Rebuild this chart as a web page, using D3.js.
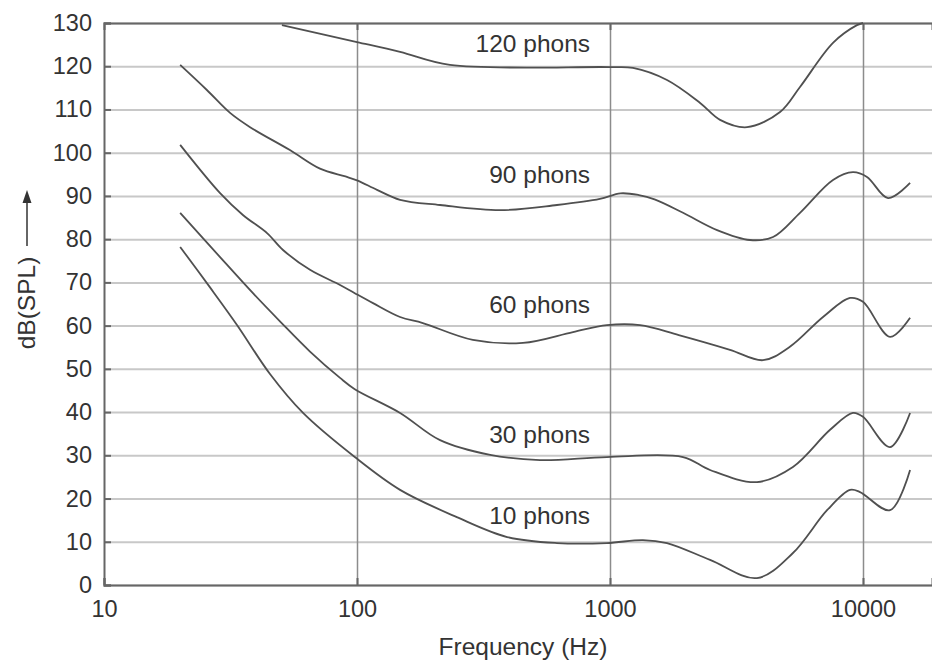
<!DOCTYPE html>
<html>
<head>
<meta charset="utf-8">
<script src="https://cdn.jsdelivr.net/npm/d3@7"></script>
<style>
  body { margin: 0; background: #fff; }
  svg { display: block; }
  .axis text { font-family: "Liberation Sans", Arial, sans-serif; font-size: 23.5px; fill: #333; }
  .label { font-family: "Liberation Sans", Arial, sans-serif; font-size: 24.5px; fill: #333; }
</style>
</head>
<body>
<script>
// Equal-loudness contours, frequency (Hz) / level (dB SPL)
var phons10Freq = [20, 26.2, 33.6, 45.3, 61.2, 98, 148, 248, 392, 617, 972, 1349, 1680, 2486, 3810, 5285, 7210, 8890, 9730, 12790, 15350];
var phons10Db   = [78.2, 68.9, 60.1, 48.8, 39.8, 29.6, 22.0, 15.7, 11.1, 9.7, 9.7, 10.4, 9.7, 5.8, 1.6, 7.4, 17.3, 22.0, 21.5, 17.3, 26.6];

var phons30Freq = [20, 28.7, 38.8, 49.6, 65.2, 85.7, 98, 148, 213, 336, 529, 972, 1944, 2486, 3810, 5285, 7410, 9125, 10000, 12790, 15350];
var phons30Db   = [86.1, 75.9, 67.5, 61.0, 54.0, 47.9, 45.3, 39.8, 33.5, 30.1, 28.9, 29.6, 29.6, 26.6, 23.8, 27.3, 35.9, 39.8, 38.9, 31.9, 39.8];

var phons60Freq = [20, 28.7, 35.4, 44.1, 51, 65.2, 85.7, 98, 115.7, 148, 182, 287, 453, 714, 972, 1314, 1870, 2980, 4025, 5140, 6950, 8890, 10000, 12790, 15350];
var phons60Db   = [101.8, 90.7, 85.6, 81.4, 77.5, 72.9, 69.4, 67.5, 65.2, 62.0, 60.6, 56.7, 56.0, 58.5, 60.1, 60.1, 57.8, 54.4, 52.0, 55.1, 62.0, 66.4, 65.5, 57.4, 61.8];

var phons90Freq = [20, 25.5, 31.5, 37.8, 54.3, 71.4, 90, 100, 120, 148, 213, 367, 617, 912, 1100, 1300, 1500, 1944, 2650, 3575, 4410, 5636, 7610, 9125, 10370, 12560, 15350];
var phons90Db   = [120.3, 114.5, 109.2, 105.9, 100.6, 96.3, 94.5, 93.6, 91.4, 89.1, 87.9, 86.7, 87.9, 89.3, 90.6, 90.2, 89.2, 86.1, 82.1, 79.8, 80.5, 86.1, 93.7, 95.5, 94.4, 89.5, 93.0];

var phons120Freq = [50.5, 100, 148, 233, 1000, 1233, 1680, 2271, 2723, 3480, 4700, 5636, 7610, 9465, 10000];
var phons120Db   = [129.5, 125.6, 123.3, 120.3, 119.8, 119.6, 116.8, 111.5, 107.6, 105.9, 109.4, 115.2, 125.4, 129.5, 130];

var curveNames = ["10 phons", "30 phons", "60 phons", "90 phons", "120 phons"];
var labelDb = [14.1, 32.8, 62.9, 93.0, 123.3];
var labelFreq = 834;

var yTicks = d3.range(0, 131, 10);
var xTicks = [10, 100, 1000, 10000];

var margin = {left: 104, right: 0, top: 23, bottom: 79},
    width = 932 - margin.left - margin.right,
    height = 664 - margin.top - margin.bottom;

var svg = d3.select("body")
    .append("svg")
    .attr("width", width + margin.left + margin.right)
    .attr("height", height + margin.top + margin.bottom)
    .append("g")
    .attr("transform", "translate(" + margin.left + "," + margin.top + ")");

// log axis: one decade is 253px, plot runs off the right edge
var xScale = d3.scaleLog()
    .domain([10, Math.pow(10, 1 + width / 253)])
    .range([0, width]);

var yScale = d3.scaleLinear()
    .domain([0, 130])
    .range([height, 0]);

//horizontal grid
svg.append("g")
    .attr("class", "ygrid")
    .call(d3.axisLeft(yScale).tickValues(yTicks).tickSize(-width).tickFormat(""))
    .call(function(g) {
        g.select(".domain").remove();
        g.selectAll("line").attr("stroke", "#c8c8c8").attr("stroke-width", 2);
    });

//vertical grid
svg.append("g")
    .attr("class", "xgrid")
    .attr("transform", "translate(0," + height + ")")
    .call(d3.axisBottom(xScale).tickValues(xTicks.slice(1)).tickSize(-height).tickFormat(""))
    .call(function(g) {
        g.select(".domain").remove();
        g.selectAll("line").attr("stroke", "#8c8c8c").attr("stroke-width", 1.5);
    });

//Y-axis with inward ticks
svg.append("g")
    .attr("class", "y axis")
    .call(d3.axisLeft(yScale).tickValues(yTicks).tickSize(-7).tickPadding(12))
    .call(function(g) {
        g.select(".domain").attr("stroke", "#666").attr("stroke-width", 2);
        g.selectAll("line").attr("stroke", "#666").attr("stroke-width", 2);
    });

//X-axis
svg.append("g")
    .attr("class", "x axis")
    .attr("transform", "translate(0," + height + ")")
    .call(d3.axisBottom(xScale).tickValues(xTicks).tickSize(-7).tickPadding(15).tickFormat(d3.format("d")))
    .call(function(g) {
        g.select(".domain").attr("stroke", "#666").attr("stroke-width", 2);
        g.selectAll("line").attr("stroke", "#666").attr("stroke-width", 2);
    });

//top border
svg.append("g")
    .call(d3.axisTop(xScale).tickValues(xTicks.slice(1)).tickSize(-7).tickFormat(""))
    .call(function(g) {
        g.select(".domain").attr("stroke", "#666").attr("stroke-width", 2);
        g.selectAll("line").attr("stroke", "#666").attr("stroke-width", 2);
    });

//Curves
var curves = [
    {f: phons10Freq, db: phons10Db},
    {f: phons30Freq, db: phons30Db},
    {f: phons60Freq, db: phons60Db},
    {f: phons90Freq, db: phons90Db},
    {f: phons120Freq, db: phons120Db}
];

var line = d3.line()
    .x(function(d) { return xScale(d[0]); })
    .y(function(d) { return yScale(d[1]); })
    .curve(d3.curveCatmullRom.alpha(0.5));

svg.selectAll(".contour")
    .data(curves)
    .enter()
    .append("path")
    .attr("class", "contour")
    .attr("fill", "none")
    .attr("stroke", "#505050")
    .attr("stroke-width", 1.8)
    .attr("d", function(c) { return line(c.f.map(function(f, i) { return [f, c.db[i]]; })); });

//Curve names
svg.selectAll(".cname")
    .data(curveNames)
    .enter()
    .append("text")
    .attr("class", "label cname")
    .attr("x", xScale(labelFreq))
    .attr("y", function(d, i) { return yScale(labelDb[i]); })
    .style("text-anchor", "end")
    .text(function(d) { return d; });

//Label for X-axis
svg.append("text")
    .attr("class", "label")
    .attr("x", 419)
    .attr("y", height + 70)
    .style("text-anchor", "middle")
    .text("Frequency (Hz)");

//Label for Y-axis with arrow
svg.append("text")
    .attr("class", "label")
    .attr("transform", "rotate(-90)")
    .attr("x", -(303 - margin.top))
    .attr("y", -margin.left + 35)
    .style("text-anchor", "middle")
    .text("dB(SPL)");

svg.append("line")
    .attr("x1", 27 - margin.left).attr("x2", 27 - margin.left)
    .attr("y1", 246 - margin.top).attr("y2", 200 - margin.top)
    .attr("stroke", "#333")
    .attr("stroke-width", 1.5);

svg.append("path")
    .attr("d", "M" + (27 - margin.left) + "," + (190 - margin.top) + "l-4.5,13h9z")
    .attr("fill", "#333");
</script>
</body>
</html>
